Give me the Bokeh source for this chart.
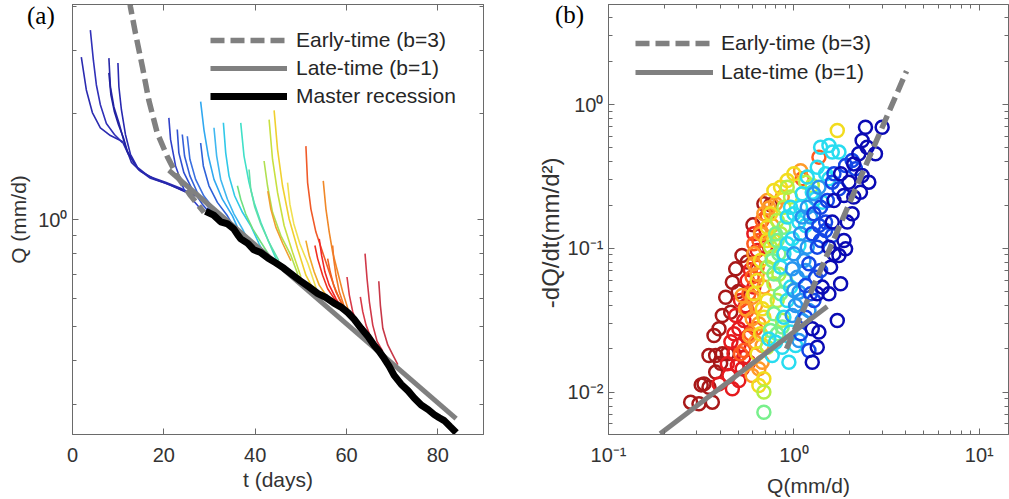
from bokeh.plotting import figure
from bokeh.models import (FixedTicker, LogAxis, LinearAxis, Legend, LegendItem,
                          CustomJSTickFormatter, Div)
from bokeh.layouts import row
from bokeh.embed import file_html
from bokeh.resources import INLINE

# ---------------- Panel (a) data ----------------
seg_t = [
    [1.93, 3.03, 4.35, 6.10, 8.30, 10.93, 12.25, 14.45, 17.08, 20.37, 24.11],
    [3.91, 4.57, 5.23, 6.10, 7.42, 9.18, 10.93],
    [7.97, 8.30, 9.07, 10.16, 11.59, 12.91, 14.89, 18.18, 21.47, 24.76],
    [7.97, 8.41, 9.18, 10.05, 11.15, 12.03, 13.6],
    [9.95, 10.16, 10.71, 11.59, 12.69, 14.23, 16.64, 20.37, 23.67, 26.96],
    [21.10, 21.47, 22.57, 24.39, 26.23, 28.06],
    [22.94, 23.29, 24.39, 26.23, 28.43, 30.25],
    [24.04, 24.54, 25.71, 27.33, 29.53, 32.01],
    [25.14, 25.71, 26.96, 28.78, 30.98, 33.77],
    [28.06, 28.65, 29.88, 31.72, 33.92, 36.40],
    [28.06, 28.78, 29.75, 30.98, 32.82, 35.02, 37.56],
    [30.98, 31.57, 32.45, 33.92, 35.37, 37.21, 39.03],
    [33.04, 33.55, 34.27, 35.52, 37.21, 39.03, 40.86, 41.67],
    [36.84, 37.56, 38.66, 39.76, 41.23, 42.70, 44.74],
    [36.11, 36.84, 37.94, 39.47, 41.23, 42.99],
    [38.66, 39.03, 39.91, 41.23, 42.99, 45.18],
    [41.95, 42.70, 43.80, 45.62, 47.82, 49.35],
    [43.05, 43.80, 44.90, 46.35, 48.19, 50.01],
    [44.15, 44.90, 45.99, 47.44, 49.29, 51.11, 52.65],
    [47.09, 47.60, 48.47, 49.79, 51.55, 53.52],
    [42.77, 43.43, 44.52, 46.06, 47.82],
    [51.11, 51.48, 52.21, 53.30, 54.77, 56.22, 57.69, 59.17],
    [54.91, 55.50, 56.22, 56.97, 58.07, 59.17, 60.55],
    [51.11, 51.83, 52.93, 54.03, 55.50],
    [53.08, 53.68, 54.77, 55.87, 57.32, 58.79],
    [54.03, 54.55, 55.28, 56.22, 57.69, 59.52],
    [56.97, 57.19, 57.69, 58.42, 59.52],
    [55.87, 56.44, 57.19, 58.42, 59.52],
    [60.11, 60.62, 61.36, 62.46, 63.91],
    [63.03, 63.56, 64.28, 65.38, 66.85],
    [64.06, 64.50, 65.01, 65.75, 66.70, 67.95],
    [67.07, 67.42, 67.95, 69.04, 70.14, 71.24],
]
seg_log10Q = [
    [0.460, 0.367, 0.303, 0.260, 0.238, 0.221, 0.185, 0.142, 0.117, 0.103, 0.083],
    [0.536, 0.451, 0.381, 0.325, 0.272, 0.241, 0.218],
    [0.457, 0.376, 0.319, 0.274, 0.207, 0.162, 0.137, 0.114, 0.098, 0.078],
    [0.415, 0.353, 0.305, 0.269, 0.232, 0.193, 0.160],
    [0.443, 0.376, 0.311, 0.241, 0.185, 0.148, 0.123, 0.106, 0.089, 0.067],
    [0.288, 0.227, 0.152, 0.086, 0.058, 0.030],
    [0.255, 0.189, 0.133, 0.086, 0.044, 0.016],
    [0.241, 0.180, 0.124, 0.077, 0.039, -0.004],
    [0.236, 0.171, 0.114, 0.067, 0.030, -0.015],
    [0.217, 0.152, 0.096, 0.049, 0.011, -0.043],
    [0.334, 0.255, 0.180, 0.114, 0.058, 0.011, -0.063],
    [0.260, 0.180, 0.114, 0.058, 0.016, -0.026, -0.073],
    [0.274, 0.189, 0.124, 0.067, 0.021, -0.017, -0.068, -0.088],
    [0.274, 0.180, 0.105, 0.049, -0.007, -0.054, -0.116],
    [0.096, 0.058, 0.016, -0.026, -0.063, -0.099],
    [0.142, 0.086, 0.036, -0.012, -0.063, -0.116],
    [0.166, 0.096, 0.021, -0.045, -0.101, -0.155],
    [0.283, 0.171, 0.077, -0.017, -0.092, -0.161],
    [0.309, 0.199, 0.096, 0.002, -0.082, -0.157, -0.195],
    [0.105, 0.044, -0.012, -0.068, -0.124, -0.200],
    [0.081, 0.030, -0.021, -0.068, -0.116],
    [0.208, 0.105, 0.030, -0.035, -0.092, -0.148, -0.204, -0.242],
    [0.110, 0.030, -0.035, -0.092, -0.148, -0.204, -0.262],
    [-0.059, -0.101, -0.148, -0.185, -0.213],
    [-0.073, -0.110, -0.157, -0.195, -0.223, -0.246],
    [-0.054, -0.101, -0.148, -0.185, -0.223, -0.260],
    [-0.073, -0.110, -0.157, -0.204, -0.246],
    [-0.110, -0.148, -0.185, -0.223, -0.251],
    [-0.162, -0.213, -0.260, -0.298, -0.326],
    [-0.218, -0.260, -0.298, -0.335, -0.363],
    [-0.096, -0.167, -0.232, -0.298, -0.344, -0.372],
    [-0.174, -0.242, -0.307, -0.354, -0.382, -0.410],
]
seg_colors = [
    "#2b2bb0", "#3030b8", "#2828a8", "#2020a0", "#2828b0",
    "#3040c8", "#3050d0", "#3560d8", "#3a70e0", "#2f62d8", "#30a8f0",
    "#40b8f0", "#30c8e8", "#40e0c8", "#70e080", "#5ee0a8",
    "#b0e050", "#c8e040", "#f0d030", "#f0e050", "#f0a030",
    "#f05a28", "#f08828", "#f0a828", "#f03020", "#f02828", "#f07828", "#f06020",
    "#d83a48", "#d83a48", "#d03848", "#c83848",
]

master_t = [29.15, 30.91, 32.45, 33.99, 35.30, 36.18, 36.84, 38.38, 39.69, 41.23,
            42.77, 44.52, 46.28, 48.26, 50.01, 51.77, 53.74, 55.50, 57.26, 58.79,
            60.33, 61.65, 63.19, 64.72, 66.04, 67.14, 68.23, 69.33, 70.43, 71.96,
            73.50, 74.82, 76.36, 77.89, 79.21, 80.31, 81.41, 82.72, 84.04]
master_log10Q = [0.024, 0.013, -0.006, -0.012, -0.026, -0.043, -0.054, -0.067, -0.085, -0.093,
                 -0.108, -0.122, -0.137, -0.157, -0.174, -0.190, -0.209, -0.220, -0.236, -0.247,
                 -0.263, -0.281, -0.307, -0.330, -0.355, -0.372, -0.392, -0.414, -0.440, -0.465,
                 -0.484, -0.504, -0.524, -0.537, -0.551, -0.560, -0.568, -0.585, -0.602]

early_t = [12.5, 12.7, 13.8, 15.3, 16.7, 18.55, 20.75, 22.9, 25.9, 28.8]
early_Q = [4.17, 3.99, 3.36, 2.71, 2.18, 1.76, 1.51, 1.33, 1.168, 1.049]
late_t = [21.1, 84.0]
late_Q = [1.38, 0.274]

a_xticks = [0, 20, 40, 60, 80]
a_yticks = [1]
a_yminor = [0.3, 0.4, 0.5, 0.6, 0.7, 0.8, 0.9, 2, 3, 4]

# ---------------- Panel (b) data (log10 values) ----------------
sc_groups = ["darkred", "red", "orangered", "orange", "yellow", "yellowgreen",
             "green", "cyan", "lightblue", "blue", "darkblue"]
sc_colors = ["#a81818", "#e61a1e", "#ff5a1e", "#ff9a28", "#f2dc1e", "#b4f046",
             "#78f08c", "#28dcf0", "#2896f0", "#1446e6", "#0a0ab4"]
sc_log10Q = [
    [-0.557, -0.512, -0.485, -0.458, -0.440, -0.422, -0.458, -0.422, -0.386, -0.359,
     -0.431, -0.386, -0.341, -0.368, -0.332, -0.314, -0.252, -0.221, -0.162, -0.126,
     -0.500, -0.395, -0.300, -0.280, -0.404],
    [-0.314, -0.297, -0.297, -0.305, -0.350, -0.279, -0.297, -0.332, -0.243, -0.323,
     -0.252, -0.270, -0.288, -0.216, -0.252, -0.198, -0.153, -0.216, -0.359, -0.404,
     -0.323, -0.260, -0.235, -0.270, -0.340],
    [-0.216, -0.189, 0.135, 0.045, -0.243, -0.270, -0.234, -0.171, -0.144, -0.252,
     -0.198, -0.288, -0.225, -0.207, -0.180],
    [-0.063, -0.117, -0.216, -0.279, -0.225, -0.207, -0.261, -0.225, -0.189, -0.207,
     -0.171, -0.171, -0.189, -0.225, -0.162, -0.180, -0.144, -0.099, -0.216, -0.162,
     -0.135, -0.198, 0.036, -0.240],
    [0.234, -0.189, -0.162, 0.000, -0.036, -0.144, -0.180, -0.198, -0.216, -0.144,
     -0.162, -0.108, -0.198, -0.144, -0.180, -0.072, -0.108, -0.126, -0.170],
    [0.063, 0.099, -0.018, -0.054, -0.090, -0.126, -0.144, -0.108, -0.090, -0.144,
     -0.162, -0.072, -0.036, -0.117, -0.081, -0.063],
    [-0.162, -0.090, -0.117, -0.072, -0.108, -0.126, -0.090, -0.108, -0.045,
     -0.054, -0.081, -0.063, -0.099],
    [0.189, 0.207, 0.243, 0.171, 0.189, 0.099, 0.117, 0.153, 0.027, 0.063,
     -0.009, 0.027, -0.135, -0.099, -0.117, -0.018, 0.009, -0.027, -0.036, -0.054,
     -0.072, -0.036, -0.054, -0.018, 0.036, 0.000, 0.045, 0.072, 0.126, 0.144,
     -0.036, -0.018, -0.063],
    [0.072, 0.036, 0.000, 0.018, 0.000, 0.036, -0.009, 0.063, 0.027, 0.009,
     -0.009, 0.045, 0.072, 0.090, 0.135, 0.108, 0.045, 0.054, 0.081, 0.027],
    [0.314, 0.279, 0.332, 0.207, 0.243, 0.171, 0.135, 0.171, 0.207, 0.144,
     0.063, 0.108, 0.126, 0.081, 0.108, 0.144, 0.117, 0.036, 0.216, 0.180,
     0.144, 0.099, 0.090, 0.063, 0.081],
    [0.386, 0.476, 0.368, 0.395, 0.440, 0.368, 0.404, 0.359, 0.297, 0.270,
     0.314, 0.288, 0.207, 0.279, 0.243, 0.252, 0.153, 0.126, 0.234, 0.099,
     0.135, 0.126, 0.099, 0.216, 0.189, 0.270, 0.198, 0.323, 0.350, 0.252,
     0.323, 0.216, 0.189],
]
sc_log10R = [
    [-2.070, -2.082, -1.943, -1.966, -2.070, -1.861, -1.745, -1.745, -1.734, -1.734,
     -1.606, -1.467, -1.444, -1.340, -1.236, -1.143, -1.096, -0.837, -0.691, -0.698,
     -1.950, -1.800, -1.300, -1.050, -1.560],
    [-1.467, -1.560, -1.676, -1.815, -1.885, -1.838, -1.919, -1.977, -1.792, -1.595,
     -1.618, -1.502, -1.363, -1.270, -1.224, -1.015, -0.992, -0.899, -1.803, -1.943,
     -1.734, -1.400, -1.150, -1.760, -1.650],
    [-0.969, -0.946, -0.366, -0.517, -1.317, -1.711, -1.595, -0.807, -0.772, -1.433,
     -1.131, -1.734, -1.200, -1.560, -0.880],
    [-0.644, -0.841, -1.108, -1.328, -1.340, -1.398, -1.421, -1.490, -1.525, -1.653,
     -1.676, -1.792, -1.838, -1.885, -0.760, -0.899, -0.668, -0.691, -1.038, -1.270,
     -0.720, -1.180, -0.460, -1.610],
    [-0.181, -1.954, -1.908, -0.482, -0.529, -0.853, -1.085, -1.224, -1.317, -1.363,
     -1.479, -0.598, -1.734, -0.946, -1.595, -0.575, -0.946, -0.760, -1.420],
    [-0.540, -0.563, -0.644, -0.714, -0.807, -0.992, -1.131, -1.247, -1.363, -1.688,
     -2.000, -0.899, -0.575, -1.060, -1.180, -1.500],
    [-2.140, -0.946, -1.085, -1.317, -1.456, -1.572, -1.595, -1.178, -1.224,
     -0.853, -1.038, -1.548, -0.900],
    [-0.285, -0.331, -0.331, -0.482, -0.517, -0.610, -0.656, -0.679, -0.818, -0.841,
     -0.934, -0.981, -1.630, -1.653, -1.745, -1.583, -1.676, -1.792, -0.783, -1.038,
     -1.131, -1.363, -1.479, -0.714, -0.714, -0.760, -0.621, -0.505, -0.436, -0.297,
     -0.969, -1.270, -1.688],
    [-0.714, -0.899, -1.038, -1.201, -1.293, -1.363, -1.143, -1.154, -1.305, -1.398,
     -1.467, -1.502, -0.992, -0.783, -0.575, -0.621, -0.783, -1.085, -1.433, -1.641],
    [-0.389, -0.424, -0.447, -0.540, -0.586, -0.818, -0.841, -0.876, -0.911, -1.154,
     -1.259, -0.760, -0.992, -1.108, -1.363, -0.714, -1.201, -1.595, -0.482, -0.668,
     -0.946, -0.899, -1.317, -1.479, -1.711],
    [-0.158, -0.158, -0.250, -0.297, -0.343, -0.494, -0.540, -0.610, -0.540, -0.633,
     -0.760, -0.818, -0.818, -1.004, -1.050, -1.247, -1.270, -1.317, -1.502, -1.560,
     -1.583, -1.688, -1.792, -0.668, -0.992, -0.946, -1.131, -0.413, -0.343, -0.482,
     -0.644, -1.038, -1.317],
]

b_early_Q = [0.912, 4.05]
b_early_R = [0.020, 1.706]
b_late_Q = [0.19, 1.513]
b_late_R = [0.00513, 0.0394]

b_xticks = [0.1, 1, 10]
b_xminor = [0.2, 0.3, 0.4, 0.5, 0.6, 0.7, 0.8, 0.9, 2, 3, 4, 5, 6, 7, 8, 9]
b_yticks = [0.01, 0.1, 1]
b_yminor = [0.006, 0.007, 0.008, 0.009, 0.02, 0.03, 0.04, 0.05, 0.06, 0.07, 0.08, 0.09,
            0.2, 0.3, 0.4, 0.5, 0.6, 0.7, 0.8, 0.9, 2, 3, 4]

# ---------------- styling helpers ----------------
FONT = "Liberation Sans"
AX_COL = "#6a6a6a"
TXT_COL = "#333333"
GRAY = "#808080"


def pow_fmt():
    return CustomJSTickFormatter(code="""
const e = Math.round(Math.log10(tick));
const sup = {"-3":"\u207b\u00b3","-2":"\u207b\u00b2","-1":"\u207b\u00b9","0":"\u2070","1":"\u00b9","2":"\u00b2"};
return "10" + sup[String(e)];
""")


def style_axis(ax, labels=True):
    ax.axis_line_color = AX_COL
    ax.major_tick_line_color = AX_COL
    ax.minor_tick_line_color = AX_COL
    ax.major_tick_in = 6
    ax.major_tick_out = 0
    ax.minor_tick_in = 4
    ax.minor_tick_out = 0
    ax.major_label_text_font = FONT
    ax.major_label_text_color = TXT_COL
    ax.axis_label_text_font = FONT
    ax.axis_label_text_color = TXT_COL
    ax.axis_label_text_font_style = "normal"
    if labels:
        ax.major_label_text_font_size = "20px"
        ax.axis_label_text_font_size = "21px"
        ax.major_label_standoff = 5
        ax.axis_label_standoff = 5
    else:
        ax.formatter = CustomJSTickFormatter(code="return '';")
        ax.major_label_text_font_size = "1px"
        ax.major_label_text_alpha = 0
        ax.major_label_standoff = 0
        ax.axis_label_standoff = 0


def base_fig(**kw):
    p = figure(output_backend="svg", toolbar_location=None, **kw)
    p.grid.visible = False
    p.outline_line_color = AX_COL
    p.background_fill_color = "white"
    p.border_fill_color = "white"
    return p


def style_legend(lg, spacing):
    lg.border_line_color = None
    lg.background_fill_alpha = 0
    lg.padding = 0
    lg.margin = 0
    lg.glyph_width = 77
    lg.glyph_height = 24
    lg.label_height = 24
    lg.label_standoff = 9
    lg.spacing = spacing
    lg.label_text_font = FONT
    lg.label_text_font_size = "21px"
    lg.label_text_color = "#262626"


# ---------------- Panel (a) ----------------
p1 = base_fig(width=522, height=499, x_range=(0, 90), y_range=(0.247, 4.06),
              y_axis_type="log", min_border_left=72, min_border_right=39,
              min_border_top=4, min_border_bottom=62)
p1.xaxis.ticker = FixedTicker(ticks=a_xticks)
p1.yaxis.ticker = FixedTicker(ticks=a_yticks, minor_ticks=a_yminor)
p1.yaxis.formatter = pow_fmt()
p1.xaxis.axis_label = "t (days)"
p1.yaxis.axis_label = "Q (mm/d)"
style_axis(p1.xaxis[0])
style_axis(p1.yaxis[0])
p1.xaxis[0].major_label_standoff = 13
p1.xaxis[0].axis_label_standoff = 3
ax_r = LogAxis(ticker=FixedTicker(ticks=a_yticks, minor_ticks=a_yminor))
style_axis(ax_r, labels=False)
p1.add_layout(ax_r, "right")
ax_t = LinearAxis(ticker=FixedTicker(ticks=a_xticks))
style_axis(ax_t, labels=False)
p1.add_layout(ax_t, "above")

seg_Q = [[10 ** v for v in s] for s in seg_log10Q]
p1.multi_line(xs=seg_t, ys=seg_Q, line_color=seg_colors, line_width=1.6)
r_late = p1.line(late_t, late_Q, line_color=GRAY, line_width=5)
r_early = p1.line(early_t, early_Q, line_color=GRAY, line_width=5.5, line_dash="14 6")
master_Q = [10 ** v for v in master_log10Q]
r_master = p1.line(master_t, master_Q, line_color="black", line_width=7)

leg1 = Legend(items=[LegendItem(label="Early-time (b=3)", renderers=[r_early]),
                     LegendItem(label="Late-time (b=1)", renderers=[r_late]),
                     LegendItem(label="Master recession", renderers=[r_master])],
              location=(138, 326))
style_legend(leg1, 4)
p1.add_layout(leg1)

# ---------------- Panel (b) ----------------
p2 = base_fig(width=487, height=499, x_range=(0.1, 14.37), y_range=(0.00507, 4.96),
              x_axis_type="log", y_axis_type="log", min_border_left=86, min_border_right=1,
              min_border_top=4, min_border_bottom=65)
p2.xaxis.ticker = FixedTicker(ticks=b_xticks, minor_ticks=b_xminor)
p2.yaxis.ticker = FixedTicker(ticks=b_yticks, minor_ticks=b_yminor)
p2.xaxis.formatter = pow_fmt()
p2.yaxis.formatter = pow_fmt()
p2.xaxis.axis_label = "Q(mm/d)"
p2.yaxis.axis_label = "-dQ/dt(mm/d\u00b2)\u00a0\u00a0\u00a0\u00a0"
style_axis(p2.xaxis[0])
style_axis(p2.yaxis[0])
p2.xaxis[0].major_label_standoff = 9
p2.xaxis[0].axis_label_standoff = 5
p2.yaxis[0].axis_label_text_font_size = "24px"
p2.yaxis[0].axis_label_standoff = 1
bx_r = LogAxis(ticker=FixedTicker(ticks=b_yticks, minor_ticks=b_yminor))
style_axis(bx_r, labels=False)
p2.add_layout(bx_r, "right")
bx_t = LogAxis(ticker=FixedTicker(ticks=b_xticks, minor_ticks=b_xminor))
style_axis(bx_t, labels=False)
p2.add_layout(bx_t, "above")

for qs, rs, col in zip(sc_log10Q, sc_log10R, sc_colors):
    p2.scatter([10 ** v for v in qs], [10 ** v for v in rs], marker="circle", size=13,
               fill_color=None, line_color=col, line_width=2.5)

rb_early = p2.line(b_early_Q, b_early_R, line_color=GRAY, line_width=5.5, line_dash="14 6")
rb_late = p2.line(b_late_Q, b_late_R, line_color=GRAY, line_width=5)

leg2 = Legend(items=[LegendItem(label="Early-time (b=3)", renderers=[rb_early]),
                     LegendItem(label="Late-time (b=1)", renderers=[rb_late])],
              location=(27, 350))
style_legend(leg2, 5)
leg2.glyph_width = 78
leg2.label_standoff = 8
p2.add_layout(leg2)

# panel letters
div_style = {"position": "absolute", "font-family": "Liberation Serif",
             "font-size": "25px", "color": "black", "line-height": "1"}
div_a = Div(text="(a)", width=40, height=30, styles=dict(div_style, left="22px", top="-2px"))
div_b = Div(text="(b)", width=40, height=30, styles=dict(div_style, left="550px", top="-3px"))

layout = row(p1, p2, div_a, div_b)
open("out.html", "w").write(file_html(layout, INLINE))
